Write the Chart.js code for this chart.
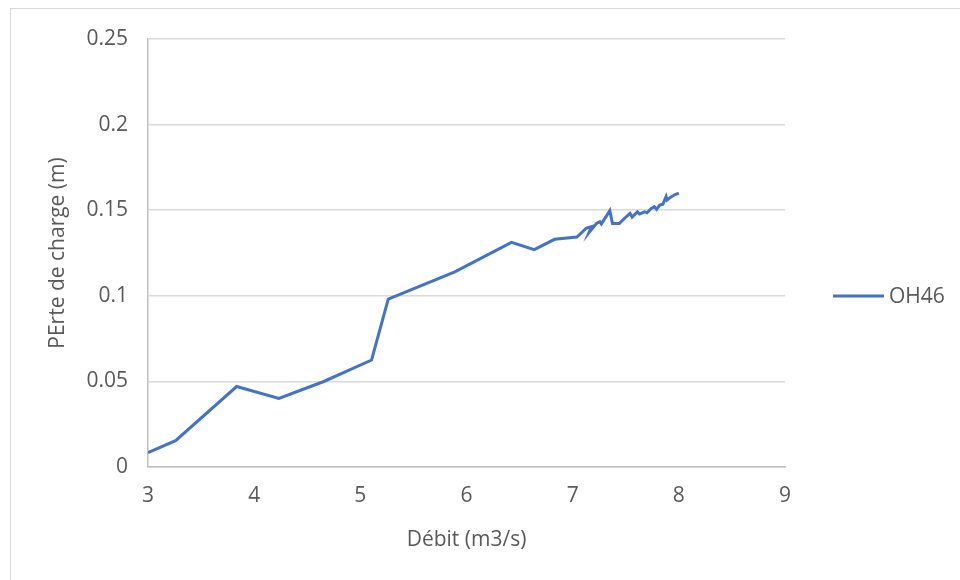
<!DOCTYPE html>
<html>
<head>
<meta charset="utf-8">
<script src="https://cdn.jsdelivr.net/npm/chart.js@4/dist/chart.umd.min.js"></script>
<style>
html, body { margin: 0; padding: 0; background: #fff; }
#cadre { position: absolute; left: 10px; top: 8px; width: 1000px; height: 620px; border: 1px solid #d9d9d9; }
#zone { position: absolute; left: 0; top: 0; width: 960px; height: 580px; }
</style>
</head>
<body>
<div id="cadre"></div>
<div id="zone"><canvas id="graphique" width="960" height="580"></canvas></div>
<script>
// débit (m3/s) et perte de charge (m)
const debit = [3.0, 3.26, 3.835, 4.233, 4.65, 5.106, 5.263, 5.89, 6.424, 6.638, 6.83, 7.04, 7.13, 7.18, 7.155,
  7.225, 7.256, 7.27, 7.35, 7.375, 7.44, 7.49, 7.54, 7.56, 7.61, 7.63, 7.68, 7.70, 7.74, 7.77, 7.79, 7.82,
  7.85, 7.88, 7.89, 7.92, 7.96, 8.0];
const perte = [0.0084, 0.0154, 0.047, 0.040, 0.0498, 0.0625, 0.098, 0.114, 0.1312, 0.127, 0.133, 0.1343, 0.1396, 0.1405, 0.137,
  0.1423, 0.1433, 0.142, 0.1497, 0.1423, 0.1423, 0.1453, 0.1482, 0.146, 0.149, 0.1478, 0.149, 0.1485, 0.151, 0.152, 0.1505, 0.153,
  0.1535, 0.158, 0.156, 0.1575, 0.159, 0.160];
const nomSerie = 'OH46';
const titreX = 'Débit (m3/s)';
const titreY = 'PErte de charge (m)';

const police = '"Open Sans", "Liberation Sans", sans-serif';
const gris = '#595959';
const bleu = '#4472C4';

document.addEventListener("DOMContentLoaded", () => {
  const points = debit.map((d, i) => ({ x: d, y: perte[i] }));

  // légende dessinée à la main, à droite du graphique
  const legendeDroite = {
    id: 'legendeDroite',
    afterDraw(chart) {
      const c = chart.ctx;
      const ds = chart.data.datasets[0];
      c.save();
      c.strokeStyle = ds.borderColor;
      c.lineWidth = 3;
      c.beginPath();
      c.moveTo(833, 296);
      c.lineTo(884, 296);
      c.stroke();
      c.fillStyle = gris;
      c.font = '21px ' + police;
      c.textBaseline = 'middle';
      c.fillText(ds.label, 889, 297);
      c.restore();
    }
  };

  new Chart(document.getElementById('graphique').getContext('2d'), {
    type: 'scatter',
    data: {
      datasets: [{
        label: nomSerie,
        data: points,
        showLine: true,
        borderColor: bleu,
        backgroundColor: bleu,
        borderWidth: 3,
        pointRadius: 0,
        tension: 0
      }]
    },
    options: {
      responsive: false,
      animation: false,
      layout: { padding: { left: 0, top: 39, right: 175, bottom: 0 } },
      plugins: { legend: { display: false }, tooltip: { enabled: false } },
      scales: {
        x: {
          type: 'linear',
          min: 3, max: 9,
          ticks: { stepSize: 1, color: gris, font: { family: police, size: 21 }, padding: 16 },
          grid: { display: false, drawTicks: false },
          border: { display: true, color: '#bfbfbf', width: 1.5 },
          title: { display: true, text: titreX, color: gris, font: { family: police, size: 21 }, padding: { top: 0, bottom: 27 } },
          afterFit: (s) => { s.height = 113; }
        },
        y: {
          min: 0, max: 0.25,
          ticks: {
            stepSize: 0.05, color: gris, font: { family: police, size: 21 }, padding: 20,
            callback: (v) => String(Number(v.toFixed(2)))
          },
          grid: { color: '#d9d9d9', lineWidth: 1.5, drawTicks: false },
          border: { display: true, color: '#bfbfbf', width: 1.5 },
          title: { display: true, text: titreY, color: gris, font: { family: police, size: 21 }, padding: { top: 45, bottom: 0 } },
          afterFit: (s) => { s.width = 148; }
        }
      }
    },
    plugins: [legendeDroite]
  });
});
</script>
</body>
</html>
